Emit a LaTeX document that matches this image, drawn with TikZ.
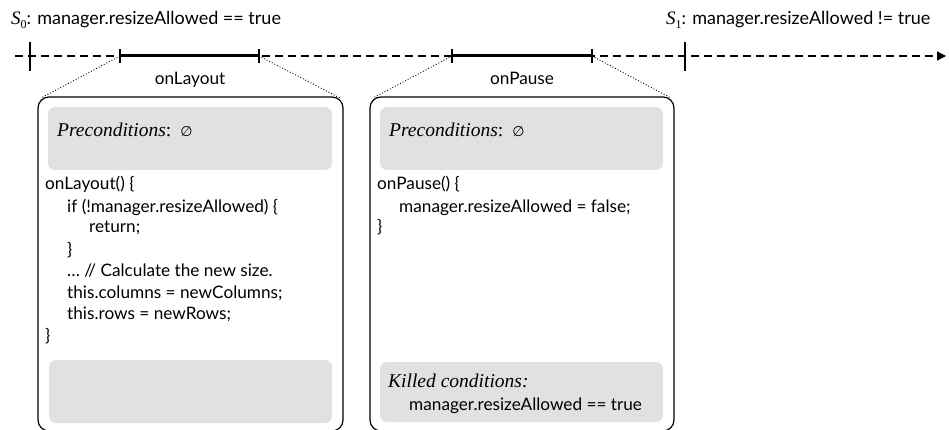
\documentclass[tikz,border=0pt]{standalone}
\usepackage{fontspec}
\setmainfont{Lato}
\newfontfamily\timesfont{Liberation Serif}
\newfontfamily\symfont{DejaVu Sans}
\usetikzlibrary{arrows.meta}
\definecolor{panelgrey}{RGB}{225,225,225}
\tikzset{
  txt/.style={anchor=base west, inner sep=0pt, font=\fontsize{17.2}{20}\selectfont},
  midtxt/.style={anchor=base, inner sep=0pt, font=\fontsize{17.2}{20}\selectfont},
  labeltxt/.style={anchor=base west, inner sep=0pt, font=\fontsize{18}{20}\selectfont},
  condtxt/.style={anchor=base west, inner sep=0pt, font=\fontsize{19.5}{22}\selectfont},
  panel/.style={draw, line width=1.2pt, rounded corners=11pt},
  shade/.style={fill=panelgrey, rounded corners=7pt},
  timeline/.style={line width=1.1pt, dash pattern=on 8pt off 5pt},
  callbar/.style={line width=3pt},
  statetick/.style={line width=2.6pt},
  calltick/.style={line width=1.8pt},
  zoomline/.style={line width=0.9pt, dotted}
}
\newcommand{\stname}[1]{{\timesfont\itshape\fontsize{19}{20}\selectfont S}\raisebox{-0.35ex}{\timesfont\fontsize{12}{12}\selectfont #1}}
\newcommand{\condhead}[1]{{\timesfont\itshape #1}}
\newcommand{\nullset}{{\symfont\fontsize{14}{14}\selectfont ∅}}
\begin{document}
\begin{tikzpicture}[x=1pt,y=-1pt]
\useasboundingbox (0,0) rectangle (949,430);

% time axis
\coordinate (axisL) at (15,56);
\coordinate (axisR) at (946,56);
\draw[timeline, -{Triangle[length=9pt,width=9pt]}] (axisL) -- (axisR);

% state ticks and their labels
\coordinate (s0a) at (30,42); \coordinate (s0b) at (30,71);
\coordinate (s1a) at (685,42); \coordinate (s1b) at (685,71);
\draw[statetick] (s0a) -- (s0b);
\draw[statetick] (s1a) -- (s1b);
\node[labeltxt] (s0lbl) at (11,25) {\stname{0}: manager.resizeAllowed == true};
\node[labeltxt] (s1lbl) at (666,25) {\stname{1}: manager.resizeAllowed != true};

% call intervals
\coordinate (layA) at (120,56); \coordinate (layB) at (259,56);
\coordinate (pauA) at (452,56); \coordinate (pauB) at (592,56);
\draw[callbar] (layA) -- (layB);
\draw[callbar] (pauA) -- (pauB);
\foreach \p in {layA,layB,pauA,pauB}{
  \draw[calltick] ([yshift=-7pt]\p) -- ([yshift=7pt]\p);
}
\node[midtxt] (laylbl) at (190,85) {onLayout};
\node[midtxt] (paulbl) at (522,85) {onPause};

% panels
\draw[panel] (38,97) rectangle (343,431);
\draw[panel] (370,97) rectangle (674,431);
\coordinate (p1tl) at (41,98); \coordinate (p1tr) at (340,98);
\coordinate (p2tl) at (373,98); \coordinate (p2tr) at (671,98);
\draw[zoomline] (layA) -- (p1tl);
\draw[zoomline] (layB) -- (p1tr);
\draw[zoomline] (pauA) -- (p2tl);
\draw[zoomline] (pauB) -- (p2tr);

% onLayout panel
\fill[shade] (48,107) rectangle (332,170);
\node[condtxt] (pre1) at (57,137) {\condhead{Preconditions}{\timesfont:}\hspace{9pt}\nullset};
\node[txt] (l1) at (45,190) {onLayout() \{};
\node[txt] (l2) at (67,212) {if (!manager.resizeAllowed) \{};
\node[txt] (l3) at (89,233) {return;};
\node[txt] (l4) at (67,255) {\}};
\node[txt] (l5) at (67,276) {… // Calculate the new size.};
\node[txt] (l6) at (67,298) {this.columns = newColumns;};
\node[txt] (l7) at (67,319) {this.rows = newRows;};
\node[txt] (l8) at (45,341) {\}};
\fill[shade] (49,360) rectangle (332,423);

% onPause panel
\fill[shade] (380,107) rectangle (663,170);
\node[condtxt] (pre2) at (389,137) {\condhead{Preconditions}{\timesfont:}\hspace{9pt}\nullset};
\node[txt] (m1) at (377,190) {onPause() \{};
\node[txt] (m2) at (399,212) {manager.resizeAllowed = false;};
\node[txt] (m3) at (377,233) {\}};
\fill[shade] (380,362) rectangle (663,422);
\node[condtxt] (kill) at (388,387) {\condhead{Killed conditions:}};
\node[txt] (killc) at (409,410) {manager.resizeAllowed == true};
\end{tikzpicture}
\end{document}
